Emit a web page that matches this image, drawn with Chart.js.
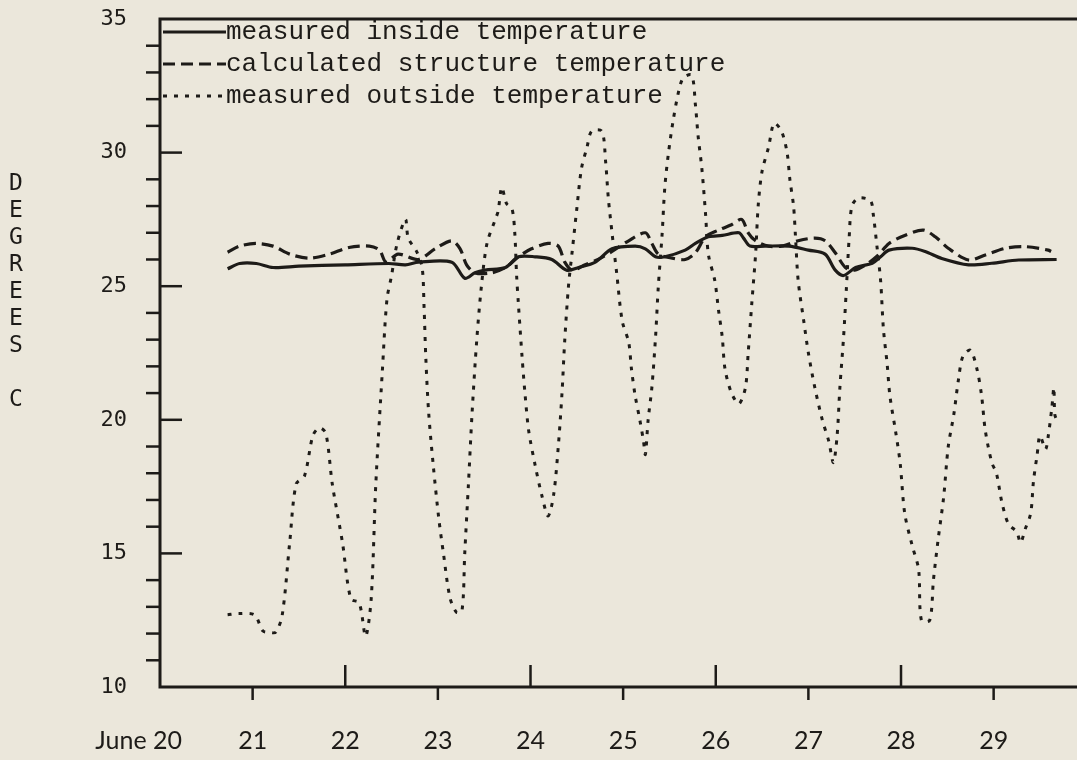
<!DOCTYPE html>
<html>
<head>
<meta charset="utf-8">
<script src="https://cdn.jsdelivr.net/npm/chart.js@4.4.1/dist/chart.umd.min.js"></script>
<style>
  html, body { margin: 0; padding: 0; background: #ebe7db; }
  #wrap { width: 1077px; height: 760px; }
</style>
</head>
<body>
<div id="wrap"><canvas id="tempChart" width="1077" height="760"></canvas></div>
<script>
// day ticks along the bottom (June 20 .. 29)
const dayTicks = [20, 21, 22, 23, 24, 25, 26, 27, 28, 29];
const dayLabels = ['June 20', '21', '22', '23', '24', '25', '26', '27', '28', '29'];
const yTitle = ['D', 'E', 'G', 'R', 'E', 'E', 'S', '', 'C'];

// measured inside temperature (solid)
const insideDays = [20.73, 20.86, 21.04, 21.22, 21.5, 22.0, 22.47, 22.65, 22.79, 23.15, 23.29, 23.40, 23.51, 23.73,
  23.87, 24.05, 24.23, 24.39, 24.52, 24.70, 24.88, 25.13, 25.24, 25.35, 25.45, 25.67, 25.78, 25.92, 26.07, 26.25,
  26.30, 26.37, 26.53, 26.79, 27.00, 27.18, 27.29, 27.38, 27.51, 27.69, 27.78, 27.87, 28.12, 28.26, 28.44, 28.73,
  28.98, 29.27, 29.68];
const insideTemps = [25.65, 25.85, 25.85, 25.7, 25.75, 25.8, 25.85, 25.8, 25.9, 25.9, 25.3, 25.5, 25.6, 25.7,
  26.1, 26.1, 26.0, 25.6, 25.7, 25.9, 26.4, 26.5, 26.4, 26.1, 26.1, 26.35, 26.6, 26.85, 26.9, 27.0,
  26.8, 26.5, 26.5, 26.5, 26.35, 26.2, 25.6, 25.4, 25.7, 25.86, 26.1, 26.35, 26.42, 26.3, 26.04, 25.8,
  25.86, 25.98, 26.0];

// calculated structure temperature (dashed)
const structDays = [20.73, 20.86, 21.04, 21.22, 21.40, 21.61, 21.83, 22.04, 22.26, 22.37, 22.44, 22.57, 22.79, 22.97,
  23.15, 23.24, 23.31, 23.40, 23.58, 23.73, 23.87, 24.01, 24.19, 24.30, 24.37, 24.45, 24.59, 24.73, 24.88, 25.06,
  25.24, 25.31, 25.38, 25.53, 25.67, 25.78, 25.89, 26.03, 26.17, 26.28, 26.35, 26.43, 26.57, 26.71, 26.89, 27.07,
  27.18, 27.29, 27.40, 27.50, 27.62, 27.75, 27.87, 28.04, 28.24, 28.37, 28.51, 28.73, 28.91, 29.13, 29.34, 29.59, 29.62];
const structTemps = [26.27, 26.5, 26.6, 26.5, 26.2, 26.05, 26.2, 26.45, 26.5, 26.35, 25.9, 26.2, 26.0, 26.4,
  26.7, 26.4, 25.8, 25.5, 25.5, 25.7, 26.1, 26.4, 26.6, 26.5, 25.9, 25.6, 25.8, 26.0, 26.3, 26.7,
  27.0, 26.6, 26.2, 26.05, 26.0, 26.25, 26.85, 27.1, 27.3, 27.5, 27.0, 26.7, 26.5, 26.5, 26.7, 26.8,
  26.7, 26.25, 25.7, 25.6, 25.8, 26.15, 26.6, 26.9, 27.1, 26.85, 26.42, 25.98, 26.17, 26.42, 26.48, 26.35, 26.3];

// measured outside temperature (dotted)
const outsideDays = [20.73, 20.85, 21.02, 21.11, 21.18, 21.25, 21.32, 21.40, 21.47, 21.56, 21.65, 21.72, 21.79, 21.86,
  21.97, 22.06, 22.15, 22.22, 22.28, 22.33, 22.40, 22.45, 22.50, 22.56, 22.65, 22.68, 22.77, 22.83, 22.85, 22.87,
  22.90, 22.95, 23.01, 23.06, 23.13, 23.20, 23.26, 23.29, 23.33, 23.37, 23.42, 23.47, 23.53, 23.62, 23.65, 23.69,
  23.74, 23.80, 23.83, 23.85, 23.87, 23.91, 23.94, 23.98, 24.05, 24.12, 24.19, 24.25, 24.30, 24.34, 24.37, 24.41,
  24.45, 24.50, 24.55, 24.61, 24.66, 24.77, 24.81, 24.84, 24.88, 24.93, 24.99, 25.06, 25.09, 25.13, 25.18, 25.22,
  25.24, 25.27, 25.31, 25.35, 25.38, 25.42, 25.45, 25.49, 25.54, 25.60, 25.65, 25.74, 25.78, 25.81, 25.85, 25.89,
  25.92, 25.99, 26.03, 26.07, 26.10, 26.17, 26.25, 26.32, 26.35, 26.39, 26.43, 26.46, 26.50, 26.57, 26.63, 26.71,
  26.77, 26.80, 26.84, 26.86, 26.89, 26.95, 27.00, 27.07, 27.15, 27.22, 27.27, 27.31, 27.34, 27.38, 27.41, 27.44,
  27.47, 27.54, 27.67, 27.70, 27.74, 27.78, 27.81, 27.85, 27.88, 27.94, 27.99, 28.04, 28.12, 28.19, 28.22, 28.31,
  28.35, 28.40, 28.46, 28.51, 28.57, 28.62, 28.67, 28.75, 28.82, 28.87, 28.91, 28.98, 29.03, 29.09, 29.16, 29.25,
  29.29, 29.34, 29.40, 29.43, 29.47, 29.50, 29.56, 29.59, 29.63, 29.65, 29.66, 29.68];
const outsideTemps = [12.7, 12.75, 12.7, 12.1, 12.05, 12.05, 12.7, 15.4, 17.6, 17.9, 19.4, 19.7, 19.5, 17.6,
  15.4, 13.3, 13.15, 11.9, 13.3, 17.6, 21.8, 24.5, 25.4, 26.6, 27.5, 26.8, 26.3, 25.7, 24.3, 22.3,
  20.3, 18.3, 16.3, 15.0, 13.35, 12.8, 12.85, 15.0, 17.6, 20.3, 23.0, 25.0, 26.6, 27.5, 27.8, 28.7,
  28.1, 27.9, 27.0, 25.4, 24.3, 22.3, 21.0, 19.6, 18.3, 17.2, 16.4, 17.2, 19.0, 21.0, 23.0, 25.0,
  26.3, 27.9, 29.4, 30.2, 30.8, 30.8, 29.7, 28.3, 27.0, 25.5, 23.7, 22.9, 21.9, 20.9, 20.0, 19.2,
  18.7, 20.0, 21.2, 23.1, 25.0, 26.9, 28.7, 30.0, 31.2, 32.3, 32.8, 32.9, 31.8, 30.6, 29.4, 27.7,
  26.2, 25.2, 24.1, 23.1, 21.9, 21.0, 20.6, 21.2, 22.5, 24.4, 26.2, 28.1, 29.3, 30.2, 31.1, 30.8,
  30.0, 29.0, 28.0, 26.9, 25.2, 23.7, 22.5, 21.2, 20.0, 19.2, 18.4, 19.4, 21.2, 23.1, 24.9, 26.8,
  28.0, 28.3, 28.2, 27.7, 26.5, 25.2, 23.4, 22.1, 20.9, 19.6, 18.4, 16.5, 15.3, 14.4, 12.5, 12.5,
  14.0, 15.5, 17.1, 19.0, 20.2, 21.5, 22.4, 22.6, 21.9, 20.9, 19.6, 18.4, 18.0, 16.9, 16.1, 15.8,
  15.4, 15.9, 16.5, 17.7, 18.7, 19.4, 18.9, 19.4, 20.5, 21.2, 20.2, 20.0];

const INK = '#1d1b18';

function toPoints(xs, ys) {
    return xs.map((x, i) => ({ x: x, y: ys[i] }));
}

// axes, tick marks, bottom labels, stacked y title and legend
const frame = {
    id: 'frame',
    afterDraw(chart) {
        const ctx = chart.ctx;
        const area = chart.chartArea;
        const xs = chart.scales.x;
        const ys = chart.scales.y;
        ctx.save();
        ctx.strokeStyle = INK;
        ctx.fillStyle = INK;
        ctx.lineCap = 'butt';

        // box: left, bottom, top
        ctx.lineWidth = 3;
        ctx.beginPath();
        ctx.moveTo(area.right, area.top);
        ctx.lineTo(area.left, area.top);
        ctx.lineTo(area.left, area.bottom);
        ctx.lineTo(area.right, area.bottom);
        ctx.stroke();

        // y ticks: minor outside, every 5 inside
        ctx.lineWidth = 2.5;
        for (let v = 11; v < 35; v++) {
            const py = ys.getPixelForValue(v);
            ctx.beginPath();
            if (v % 5 === 0) {
                ctx.moveTo(area.left, py);
                ctx.lineTo(area.left + 22, py);
            } else {
                ctx.moveTo(area.left - 14, py);
                ctx.lineTo(area.left, py);
            }
            ctx.stroke();
        }

        // x ticks: odd days below, even days above
        dayTicks.forEach(d => {
            if (d === 20) return;
            const px = xs.getPixelForValue(d);
            ctx.beginPath();
            if (d % 2 === 1) {
                ctx.moveTo(px, area.bottom);
                ctx.lineTo(px, area.bottom + 13);
            } else {
                ctx.moveTo(px, area.bottom - 22);
                ctx.lineTo(px, area.bottom);
            }
            ctx.stroke();
        });

        // x labels
        ctx.font = '25px Lato';
        ctx.textBaseline = 'middle';
        dayTicks.forEach((d, i) => {
            const px = xs.getPixelForValue(d);
            if (i === 0) {
                ctx.textAlign = 'right';
                ctx.fillText(dayLabels[i], px + 22, 741);
            } else {
                ctx.textAlign = 'center';
                ctx.fillText(dayLabels[i], px, 741);
            }
        });

        // stacked y title
        ctx.font = '23px "DejaVu Sans Mono"';
        ctx.textAlign = 'center';
        yTitle.forEach((ch, i) => {
            ctx.fillText(ch, 16, 184 + i * 27);
        });

        // legend inside the top left of the plot
        ctx.font = '26px "Liberation Mono"';
        ctx.textAlign = 'left';
        chart.data.datasets.forEach((ds, i) => {
            const ly = 32 + i * 32;
            ctx.save();
            ctx.lineWidth = 3;
            ctx.setLineDash(ds.borderDash || []);
            ctx.beginPath();
            ctx.moveTo(area.left + 3, ly);
            ctx.lineTo(area.left + 66, ly);
            ctx.stroke();
            ctx.restore();
            ctx.fillText(ds.label, area.left + 66, ly);
        });
        ctx.restore();
    }
};

new Chart(document.getElementById('tempChart'), {
    type: 'line',
    data: {
        datasets: [
            {
                label: 'measured inside temperature',
                data: toPoints(insideDays, insideTemps),
                borderColor: INK,
                borderWidth: 3.2,
                borderDash: []
            },
            {
                label: 'calculated structure temperature',
                data: toPoints(structDays, structTemps),
                borderColor: INK,
                borderWidth: 3.2,
                borderDash: [12, 6]
            },
            {
                label: 'measured outside temperature',
                data: toPoints(outsideDays, outsideTemps),
                borderColor: INK,
                borderWidth: 3,
                borderDash: [4, 7]
            }
        ]
    },
    options: {
        responsive: false,
        animation: false,
        layout: { padding: { top: 19, left: 0, right: 0, bottom: 0 } },
        elements: {
            point: { radius: 0 },
            line: { tension: 0.3, fill: false }
        },
        plugins: {
            legend: { display: false },
            tooltip: { enabled: false }
        },
        scales: {
            x: {
                type: 'linear',
                min: 20,
                max: 29.9,
                grid: { display: false, drawTicks: false },
                border: { display: false },
                ticks: { display: false },
                afterFit: s => { s.height = 73; s.paddingLeft = 0; s.paddingRight = 0; }
            },
            y: {
                min: 10,
                max: 35,
                grid: { display: false, drawTicks: false },
                border: { display: false },
                ticks: {
                    stepSize: 1,
                    autoSkip: false,
                    padding: 33,
                    color: INK,
                    font: { family: 'DejaVu Sans Mono', size: 22 },
                    callback: v => (v % 5 === 0 ? String(v) : '')
                },
                afterFit: s => { s.width = 160; s.paddingTop = 0; s.paddingBottom = 0; }
            }
        }
    },
    plugins: [frame]
});
</script>
</body>
</html>
